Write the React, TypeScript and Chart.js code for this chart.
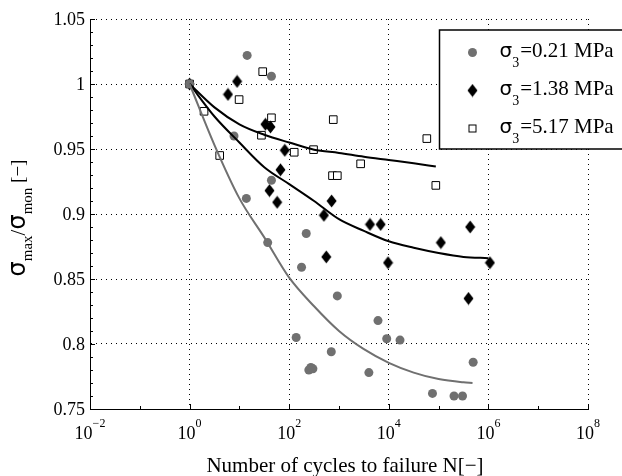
import React, { useEffect, useRef } from "react";
import { Chart, registerables } from "chart.js";

Chart.register(...registerables);

// ---- data ----
const circleCycles = [1, 14.3, 44, 7.8, 44, 13.8, 37, 220, 177, 925, 6070, 138, 9080, 16800, 700, 248, 272, 299, 3980, 75300, 494000, 204000, 302000];
const circleRatio = [1.0, 1.022, 1.006, 0.96, 0.926, 0.912, 0.878, 0.885, 0.859, 0.837, 0.818, 0.805, 0.804, 0.803, 0.794, 0.78, 0.782, 0.781, 0.778, 0.762, 0.786, 0.76, 0.76];

const diamondCycles = [1, 5.9, 9.0, 33.3, 42, 81.5, 66.8, 40.2, 57.3, 497, 710, 4190, 6870, 555, 9640, 111000, 430000, 1072000, 398000];
const diamondRatio = [1.0, 0.992, 1.002, 0.969, 0.967, 0.949, 0.934, 0.918, 0.909, 0.899, 0.91, 0.892, 0.892, 0.867, 0.8625, 0.878, 0.89, 0.8625, 0.835];

const squareCycles = [1, 1.95, 9.86, 29.4, 44, 27.7, 4.02, 126, 308, 767, 741, 925, 2720, 58000, 87900];
const squareRatio = [1.0, 0.979, 0.988, 1.0095, 0.974, 0.9606, 0.945, 0.9475, 0.9495, 0.9726, 0.9295, 0.9295, 0.9386, 0.958, 0.922];

const fitLowCycles = [1, 3.16, 10, 31.6, 100, 316, 1000, 3160, 10000, 31600, 100000, 316000, 480000];
const fitLowRatio = [1.0, 0.953, 0.912, 0.882, 0.851, 0.829, 0.81, 0.796, 0.7855, 0.778, 0.773, 0.7705, 0.77];

const fitMidCycles = [1, 3.16, 10, 31.6, 100, 316, 1000, 3160, 10000, 31600, 100000, 316000, 1000000];
const fitMidRatio = [1.0, 0.975, 0.955, 0.936, 0.923, 0.91, 0.896, 0.887, 0.879, 0.874, 0.87, 0.867, 0.866];

const fitHighCycles = [1, 3.16, 10, 31.6, 100, 316, 1000, 3160, 10000, 31600, 88000];
const fitHighRatio = [1.0, 0.982, 0.969, 0.961, 0.955, 0.9495, 0.947, 0.944, 0.9415, 0.939, 0.9365];

const xTickExps = [-2, 0, 2, 4, 6, 8];
const yTicks = [0.75, 0.8, 0.85, 0.9, 0.95, 1, 1.05];
const legendValues = ["=0.21 MPa", "=1.38 MPa", "=5.17 MPa"];
const xTitle = "Number of cycles to failure N[\u2212]";

// ---- styles ----
const SERIF = "'Liberation Serif', 'Times New Roman', serif";
const SYM = "'DejaVu Sans', sans-serif";
const GRAY = "#707070";

Chart.defaults.font.family = SERIF;
Chart.defaults.color = "#000";

function makeDiamond(): HTMLCanvasElement {
  const c = document.createElement("canvas");
  c.width = 11;
  c.height = 14;
  const g = c.getContext("2d")!;
  g.fillStyle = "#000";
  g.beginPath();
  g.moveTo(5.5, 0.5);
  g.lineTo(10.5, 7);
  g.lineTo(5.5, 13.5);
  g.lineTo(0.5, 7);
  g.closePath();
  g.fill();
  return c;
}

const pts = (xs: number[], ys: number[]) => xs.map((x, i) => ({ x, y: ys[i] }));

type Run = { t: string; font: string; dy: number };
function runsWidth(ctx: CanvasRenderingContext2D, runs: Run[]) {
  let w = 0;
  for (const r of runs) {
    ctx.font = r.font;
    w += ctx.measureText(r.t).width;
  }
  return w;
}
function drawRuns(ctx: CanvasRenderingContext2D, runs: Run[], x0: number, base: number) {
  let x = x0;
  for (const r of runs) {
    ctx.font = r.font;
    ctx.fillText(r.t, x, base + r.dy);
    x += ctx.measureText(r.t).width;
  }
  return x;
}

function makeOverlay(diamond: HTMLCanvasElement) {
  return {
    id: "overlay",
    afterDraw(chart: any) {
      const { ctx, chartArea: a } = chart;
      const xs = chart.scales.x;
      const ys = chart.scales.y;
      ctx.save();
      ctx.setLineDash([]);
      // inward tick marks
      ctx.strokeStyle = "#000";
      ctx.lineWidth = 1;
      ctx.beginPath();
      for (let e = -2; e <= 8; e++) {
        const px = Math.round(xs.getPixelForValue(Math.pow(10, e))) + 0.5;
        const len = e % 2 === 0 ? 5 : 3;
        ctx.moveTo(px, a.bottom);
        ctx.lineTo(px, a.bottom - len);
      }
      for (let i = 0; i <= 30; i++) {
        const py = Math.round(ys.getPixelForValue(0.75 + i * 0.01)) + 0.5;
        const len = i % 5 === 0 ? 5 : 3;
        ctx.moveTo(a.left, py);
        ctx.lineTo(a.left + len, py);
      }
      ctx.stroke();

      // y tick labels
      ctx.fillStyle = "#000";
      ctx.font = `18px ${SERIF}`;
      ctx.textAlign = "right";
      ctx.textBaseline = "middle";
      for (const v of yTicks) {
        ctx.fillText(String(+v.toFixed(2)), a.left - 5, ys.getPixelForValue(v) + 1);
      }

      // x tick labels with superscripts
      ctx.textAlign = "left";
      ctx.textBaseline = "alphabetic";
      for (const e of xTickExps) {
        const px = xs.getPixelForValue(Math.pow(10, e));
        const sup = (e < 0 ? "\u2212" : "") + Math.abs(e);
        const runs: Run[] = [
          { t: "10", font: `18px ${SERIF}`, dy: 0 },
          { t: sup, font: `12px ${SERIF}`, dy: -11.5 },
        ];
        const w = runsWidth(ctx, runs);
        drawRuns(ctx, runs, px - w / 2, a.bottom + 29.5);
      }

      // x title
      ctx.font = `21px ${SERIF}`;
      ctx.textAlign = "center";
      ctx.fillText(xTitle, (a.left + a.right) / 2 + 6, a.bottom + 63);
      ctx.textAlign = "left";

      // y title (rotated)
      const yRuns: Run[] = [
        { t: "\u03c3", font: `24px ${SYM}`, dy: 0 },
        { t: "max", font: `15px ${SERIF}`, dy: 7 },
        { t: "/", font: `21px ${SERIF}`, dy: 0 },
        { t: "\u03c3", font: `24px ${SYM}`, dy: 0 },
        { t: "mon", font: `15px ${SERIF}`, dy: 7 },
        { t: " [\u2212]", font: `19px ${SERIF}`, dy: -1 },
      ];
      ctx.save();
      ctx.translate(25, (a.top + a.bottom) / 2 + 4);
      ctx.rotate(-Math.PI / 2);
      const yw = runsWidth(ctx, yRuns);
      drawRuns(ctx, yRuns, -yw / 2, 0);
      ctx.restore();

      // legend box
      const bx = 439.5;
      const by = a.top + 11;
      const bh = 119;
      ctx.fillStyle = "#fff";
      ctx.fillRect(bx, by, chart.width - bx + 5, bh);
      ctx.strokeStyle = "#000";
      ctx.lineWidth = 1.5;
      ctx.strokeRect(bx, by, chart.width - bx + 5, bh);

      const mx = bx + 33;
      for (let i = 0; i < 3; i++) {
        const ry = by + 22.5 + i * 38;
        if (i === 0) {
          ctx.fillStyle = GRAY;
          ctx.beginPath();
          ctx.arc(mx, ry, 4.5, 0, Math.PI * 2);
          ctx.fill();
        } else if (i === 1) {
          ctx.drawImage(diamond, mx - diamond.width / 2, ry - diamond.height / 2);
        } else {
          ctx.fillStyle = "#fff";
          ctx.strokeStyle = "#000";
          ctx.lineWidth = 1;
          ctx.fillRect(mx - 3.5, ry - 3.5, 7, 7);
          ctx.strokeRect(mx - 3.5, ry - 3.5, 7, 7);
        }
        ctx.fillStyle = "#000";
        drawRuns(
          ctx,
          [
            { t: "\u03c3", font: `20px ${SYM}`, dy: 0 },
            { t: "3", font: `14px ${SERIF}`, dy: 10 },
            { t: " ", font: `4px ${SERIF}`, dy: 0 },
            { t: legendValues[i], font: `21px ${SERIF}`, dy: 0 },
          ],
          bx + 60,
          ry + 4.5
        );
      }
      ctx.restore();
    },
  };
}

export default function App() {
  const ref = useRef<HTMLCanvasElement | null>(null);

  useEffect(() => {
    if (!ref.current) return;
    const diamond = makeDiamond();
    const lineBase = {
      type: "line" as const,
      showLine: true,
      pointRadius: 0,
      borderWidth: 2,
      fill: false,
      cubicInterpolationMode: "monotone" as const,
    };
    const chart = new Chart(ref.current, {
      type: "scatter",
      data: {
        datasets: [
          { ...lineBase, label: "fit 0.21", data: pts(fitLowCycles, fitLowRatio), borderColor: GRAY },
          { ...lineBase, label: "fit 1.38", data: pts(fitMidCycles, fitMidRatio), borderColor: "#000" },
          { ...lineBase, label: "fit 5.17", data: pts(fitHighCycles, fitHighRatio), borderColor: "#000" },
          {
            label: "σ3=0.21 MPa",
            data: pts(circleCycles, circleRatio),
            pointStyle: "circle",
            pointRadius: 4.5,
            backgroundColor: GRAY,
            borderWidth: 0,
          },
          {
            label: "σ3=1.38 MPa",
            data: pts(diamondCycles, diamondRatio),
            pointStyle: diamond,
            pointRadius: 5,
            backgroundColor: "#000",
            borderWidth: 0,
          },
          {
            label: "σ3=5.17 MPa",
            data: pts(squareCycles, squareRatio),
            pointStyle: "rect",
            pointRadius: 5.4,
            backgroundColor: "#fff",
            borderColor: "#000",
            borderWidth: 1,
          },
        ],
      },
      options: {
        responsive: false,
        animation: false,
        layout: { padding: { left: 0, top: 19, right: 34, bottom: 0 } },
        plugins: {
          legend: { display: false },
          tooltip: { enabled: false },
        },
        scales: {
          x: {
            type: "logarithmic",
            min: 0.01,
            max: 1e8,
            afterBuildTicks: (s: any) => {
              s.ticks = xTickExps.map((e) => ({ value: Math.pow(10, e) }));
            },
            afterFit: (s: any) => {
              s.height = 67;
            },
            ticks: { display: false },
            grid: { color: "#000", lineWidth: 1, drawTicks: false },
            border: { display: true, color: "#000", width: 1, dash: [1, 4] },
          },
          y: {
            type: "linear",
            min: 0.75,
            max: 1.05,
            afterBuildTicks: (s: any) => {
              s.ticks = yTicks.map((v) => ({ value: v }));
            },
            afterFit: (s: any) => {
              s.width = 90;
            },
            ticks: { display: false },
            grid: { color: "#000", lineWidth: 1, drawTicks: false },
            border: { display: true, color: "#000", width: 1, dash: [1, 4] },
          },
        },
      },
      plugins: [makeOverlay(diamond)],
    } as any);
    return () => chart.destroy();
  }, []);

  return (
    <div style={{ position: "fixed", left: 0, top: 0, width: 622, height: 476, background: "#fff" }}>
      <canvas ref={ref} width={622} height={476} style={{ display: "block" }} />
    </div>
  );
}
